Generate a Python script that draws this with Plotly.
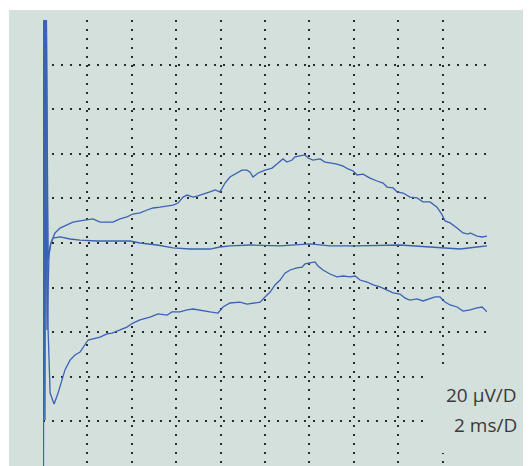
import plotly.graph_objects as go

# Time in ms (2 ms per division), amplitude in µV (20 µV per division)
t_upper = [0, 0.05, 0.14, 0.23, 0.32, 0.36, 0.54, 0.77, 1.08, 1.35, 1.67, 1.98, 2.25, 2.57, 2.88,
           3.15, 3.47, 3.78, 4.05, 4.37, 4.69, 4.96, 5.27, 5.59, 5.86, 6.08, 6.31, 6.49, 6.76, 6.98,
           7.07, 7.52, 7.75, 7.97, 8.20, 8.42, 8.74, 8.96, 9.19, 9.33, 9.46, 9.69, 10.00, 10.32,
           10.59, 10.81, 10.99, 11.22, 11.35, 11.58, 11.80, 11.94, 12.16, 12.48, 12.70, 12.93,
           13.24, 13.52, 13.74, 13.97, 14.15, 14.42, 14.73, 15.05, 15.32, 15.50, 15.77, 15.95,
           16.22, 16.53, 16.85, 17.12, 17.43, 17.75, 17.98, 18.11, 18.34, 18.65, 18.92, 19.15,
           19.24, 19.55, 19.78, 20.00]
v_upper = [0, 120, 120, -7.6, -1.3, 0, 4.5, 6.7, 8.1, 9.4, 9.9, 10.3, 10.8, 9.4, 9.4,
           9.4, 10.8, 11.7, 13.0, 13.5, 14.8, 15.7, 16.1, 16.6, 17.0, 17.9, 20.6, 21.5, 20.6, 21.1,
           21.5, 22.9, 23.8, 22.9, 26.9, 29.6, 31.4, 32.7, 32.7, 31.8, 29.6, 31.4, 32.7, 33.6,
           35.9, 37.7, 36.3, 37.2, 38.6, 39.0, 39.5, 38.1, 37.2, 37.7, 36.3, 35.9,
           35.4, 34.5, 33.2, 32.3, 30.5, 30.9, 29.1, 27.8, 26.9, 25.1, 24.7, 22.9,
           22.4, 20.6, 20.2, 18.4, 18.4, 16.1, 12.6, 9.9, 9.0, 6.7, 4.5, 4.0,
           4.5, 3.1, 2.7, 3.1]

t_middle = [0, 0.05, 0.09, 0.18, 0.27, 0.36, 0.45, 0.77, 1.22, 1.67, 2.43, 3.92, 4.37, 5.14,
            5.86, 6.62, 7.52, 7.97, 8.42, 9.33, 10.68, 12.03, 12.93, 14.15, 16.08, 18.02,
            18.79, 19.55, 20.00]
v_middle = [0, 120, 120, -39, -5.4, 0, 2.2, 2.7, 1.8, 1.3, 0.9, 0.9, 0, -0.9,
            -2.2, -2.7, -2.7, -1.8, -1.3, -0.9, -1.3, -0.4, -1.3, -1.3, -0.9, -2.2,
            -2.7, -1.8, -1.3]

t_lower = [0, 0.02, 0.05, 0.09, 0.14, 0.23, 0.32, 0.50, 0.68, 0.86, 0.99, 1.22, 1.44, 1.67,
           1.89, 2.03, 2.25, 2.57, 2.88, 3.11, 3.47, 3.78, 4.05, 4.37, 4.82, 5.18, 5.59, 5.81,
           6.17, 6.49, 6.76, 7.07, 7.52, 7.88, 8.11, 8.42, 8.87, 9.19, 9.46, 9.78, 10.00, 10.23,
           10.45, 10.68, 10.90, 11.13, 11.44, 11.67, 11.80, 12.03, 12.25, 12.39, 12.61, 12.93,
           13.24, 13.52, 13.83, 14.06, 14.28, 14.60, 14.87, 15.18, 15.50, 15.77, 16.08, 16.31,
           16.53, 16.85, 17.12, 17.43, 17.66, 17.88, 18.11, 18.34, 18.65, 18.92, 19.24, 19.55,
           19.78, 20.00]
v_lower = [0, -120, 120, -79.4, 120, -39, -67.3, -72.2, -67.3, -61.4, -56.9, -52.5, -50.2, -48.9,
           -45.7, -43.5, -43.0, -42.2, -40.8, -40.4, -39.0, -37.7, -35.9, -34.5, -33.2, -31.8, -32.3, -30.9,
           -30.9, -30.0, -29.6, -30.0, -30.9, -31.4, -28.7, -26.9, -26.5, -27.4, -26.9, -26.5, -24.2, -22.0,
           -18.8, -16.6, -13.5, -12.1, -11.2, -10.8, -9.4, -9.0, -8.5, -10.3, -12.1, -13.9,
           -15.2, -14.8, -15.2, -14.8, -16.6, -17.5, -18.8, -19.7, -21.1, -22.4, -22.9, -24.7,
           -25.6, -25.1, -26.0, -25.1, -24.2, -24.2, -26.5, -27.8, -28.7, -30.5, -30.0, -29.1,
           -28.7, -30.9]

x_grid = [0, 2, 4, 6, 8, 10, 12, 14, 16, 18]
y_grid = [-80, -60, -40, -20, 0, 20, 40, 60, 80]
scale_labels = ["20 µV/D", "2 ms/D"]

BG = "#d3e0dc"
LINE = "#3b62b4"

fig = go.Figure()
for t, v in [(t_upper, v_upper), (t_middle, v_middle), (t_lower, v_lower)]:
    fig.add_trace(go.Scatter(x=t, y=v, mode="lines",
                             line=dict(color=LINE, width=1.3),
                             hoverinfo="skip", showlegend=False))

fig.update_layout(
    width=531, height=466,
    margin=dict(l=35, r=52, t=12, b=8),
    paper_bgcolor="white",
    plot_bgcolor="rgba(0,0,0,0)",
    showlegend=False,
    xaxis=dict(range=[0, 20], tickvals=x_grid, showticklabels=False, ticks="",
               showgrid=True, gridcolor="#2a2a2a", gridwidth=1.5, griddash="2px,7px",
               zeroline=False, showline=False, fixedrange=True),
    yaxis=dict(range=[-100, 100], tickvals=y_grid, showticklabels=False, ticks="",
               showgrid=True, gridcolor="#2a2a2a", gridwidth=1.5, griddash="2px,7px",
               zeroline=False, showline=False, fixedrange=True),
    shapes=[
        dict(type="rect", xref="paper", yref="paper", x0=-0.0766, x1=1.2, y0=-0.05, y1=1.0224,
             fillcolor=BG, line=dict(width=0), layer="below"),
        dict(type="rect", xref="x", yref="y", x0=17.34, x1=22, y0=-94.2, y1=-56.0,
             fillcolor=BG, line=dict(width=0), layer="between"),
    ],
    annotations=[
        dict(text=scale_labels[0], xref="paper", yref="paper", x=1.072, y=0.125,
             xanchor="right", yanchor="bottom", showarrow=False,
             font=dict(family="Open Sans", size=19, color="#3a3a3a")),
        dict(text=scale_labels[1], xref="paper", yref="paper", x=1.072, y=0.058,
             xanchor="right", yanchor="bottom", showarrow=False,
             font=dict(family="Open Sans", size=19, color="#3a3a3a")),
    ],
)

fig.write_html("out.html")
